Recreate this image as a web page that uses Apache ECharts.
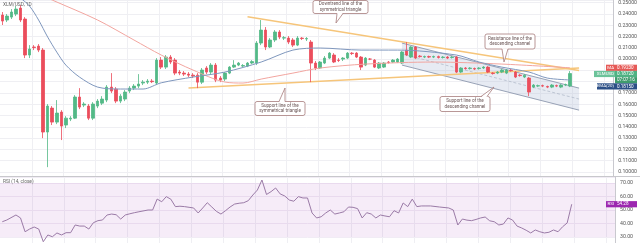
<!DOCTYPE html>
<html>
<head>
<meta charset="utf-8">
<script src="https://cdn.jsdelivr.net/npm/echarts@6.0.0/dist/echarts.min.js"></script>
<style>
html,body{margin:0;padding:0;background:#ffffff;}
#chart{width:640px;height:243px;}
</style>
</head>
<body>
<div id="chart"></div>
<script>
// ---------------- data ----------------
const slotCount = 135; // candle slots, the last ones are the empty right margin
const opens = [
0.2390,0.2346,0.2372,0.2399,0.2452,0.2355,0.2036,0.2107,0.2115,0.2080,
0.1354,0.1566,0.1442,0.1531,0.1416,0.1469,0.1477,0.1664,0.1593,0.1584,
0.1477,0.1584,0.1610,0.1637,0.1752,0.1734,0.1628,0.1646,0.1717,0.1743,
0.1761,0.1788,0.1796,0.1805,0.1788,0.1991,0.1929,0.2018,0.1991,0.1885,
0.1876,0.1867,0.1858,0.1858,0.1796,0.1921,0.1885,0.1947,0.1832,0.1823,
0.1876,0.1929,0.1947,0.1938,0.1938,0.1965,0.1965,0.2142,0.2257,0.2107,
0.2169,0.2240,0.2186,0.2186,0.2169,0.2124,0.2186,0.2178,0.2151,0.1965,
0.1921,0.1965,0.2009,0.2036,0.1991,0.2000,0.2009,0.2053,0.2053,0.2018,
0.1947,0.2000,0.1991,0.1921,0.1929,0.1974,0.1974,0.1974,0.1965,0.2080,
0.2018,0.2107,0.2027,0.2018,0.2022,0.2018,0.2022,0.2014,0.2018,0.2014,
0.2018,0.1885,0.1921,0.1916,0.1916,0.1916,0.1921,0.1929,0.1876,0.1876,
0.1885,0.1876,0.1903,0.1885,0.1858,0.1841,0.1832,0.1752,0.1761,0.1765,
0.1757,0.1752,0.1765,0.1752,0.1770,0.1761];
const closes = [
0.2337,0.2381,0.2417,0.2443,0.2346,0.2036,0.2089,0.2102,0.2080,0.1354,
0.1584,0.1442,0.1522,0.1407,0.1477,0.1477,0.1664,0.1575,0.1602,0.1477,
0.1602,0.1628,0.1646,0.1752,0.1717,0.1628,0.1672,0.1708,0.1743,0.1761,
0.1779,0.1796,0.1805,0.1800,0.1991,0.1929,0.2018,0.1974,0.1876,0.1876,
0.1867,0.1858,0.1850,0.1796,0.1903,0.1885,0.1947,0.1814,0.1814,0.1876,
0.1929,0.1947,0.1965,0.1943,0.1965,0.1978,0.2142,0.2257,0.2107,0.2169,
0.2240,0.2195,0.2190,0.2151,0.2124,0.2186,0.2182,0.2182,0.1965,0.1921,
0.1974,0.2009,0.2053,0.1974,0.1988,0.2009,0.2053,0.2049,0.2018,0.1929,
0.2009,0.2000,0.1929,0.1965,0.1965,0.1970,0.1991,0.2000,0.2062,0.2036,
0.2107,0.2009,0.2022,0.2022,0.2018,0.2022,0.2014,0.2018,0.2009,0.2018,
0.1885,0.1921,0.1916,0.1921,0.1912,0.1921,0.1929,0.1885,0.1872,0.1885,
0.1903,0.1903,0.1898,0.1841,0.1854,0.1858,0.1708,0.1770,0.1765,0.1761,
0.1752,0.1770,0.1761,0.1770,0.1774,0.1872];
const lows = [
0.2302,0.2328,0.2355,0.2381,0.2328,0.2009,0.2009,0.2080,0.2062,0.1300,
0.1043,0.1416,0.1424,0.1283,0.1389,0.1451,0.1469,0.1557,0.1575,0.1460,
0.1460,0.1566,0.1593,0.1619,0.1699,0.1610,0.1610,0.1628,0.1699,0.1726,
0.1743,0.1770,0.1779,0.1788,0.1770,0.1912,0.1912,0.1956,0.1858,0.1858,
0.1850,0.1841,0.1832,0.1743,0.1779,0.1867,0.1867,0.1796,0.1796,0.1805,
0.1867,0.1921,0.1938,0.1929,0.1929,0.1956,0.1947,0.2124,0.2080,0.2098,
0.2151,0.2177,0.2169,0.2133,0.2107,0.2115,0.2169,0.2160,0.1796,0.1903,
0.1912,0.1956,0.2000,0.1965,0.1974,0.1983,0.2000,0.2036,0.2009,0.1903,
0.1938,0.1991,0.1921,0.1912,0.1921,0.1960,0.1965,0.1965,0.1956,0.2027,
0.2009,0.2000,0.2014,0.2009,0.2009,0.2009,0.2005,0.2005,0.2000,0.2005,
0.1876,0.1876,0.1907,0.1907,0.1903,0.1907,0.1912,0.1876,0.1863,0.1867,
0.1876,0.1867,0.1889,0.1832,0.1845,0.1832,0.1672,0.1743,0.1752,0.1752,
0.1743,0.1743,0.1752,0.1743,0.1761,0.1752];
const highs = [
0.2417,0.2399,0.2443,0.2470,0.2479,0.2372,0.2124,0.2124,0.2133,0.2098,
0.1602,0.1584,0.1637,0.1548,0.1495,0.1495,0.1681,0.1743,0.1619,0.1602,
0.1619,0.1646,0.1672,0.1770,0.1876,0.1752,0.1690,0.1726,0.1761,0.1779,
0.1867,0.1814,0.1823,0.1823,0.2009,0.2018,0.2036,0.2036,0.2009,0.1903,
0.1894,0.1885,0.1876,0.1876,0.1921,0.1938,0.1965,0.1965,0.1850,0.1885,
0.1938,0.1991,0.1974,0.1956,0.1974,0.1991,0.2160,0.2346,0.2284,0.2186,
0.2257,0.2257,0.2204,0.2204,0.2186,0.2204,0.2195,0.2195,0.2169,0.1983,
0.1983,0.2027,0.2062,0.2053,0.2009,0.2018,0.2062,0.2062,0.2062,0.2027,
0.2018,0.2009,0.2000,0.1974,0.1974,0.1983,0.2000,0.2009,0.2071,0.2151,
0.2115,0.2115,0.2036,0.2031,0.2031,0.2031,0.2031,0.2027,0.2027,0.2027,
0.2027,0.1929,0.1929,0.1929,0.1925,0.1929,0.1938,0.1938,0.1885,0.1894,
0.1912,0.1912,0.1912,0.1894,0.1867,0.1867,0.1841,0.1779,0.1774,0.1774,
0.1765,0.1779,0.1774,0.1779,0.1783,0.1894];

// moving averages, read as [candle index, value]
const emaPoints = [[4,0.2541],[6,0.2470],[8,0.2346],[10,0.2195],[12,0.2062],[14,0.1947],[17,0.1841],
  [21,0.1752],[26,0.1735],[31,0.1735],[35,0.1790],[42,0.1841],[49,0.1885],[57,0.1974],[64,0.2080],
  [70,0.2098],[79,0.2080],[87,0.2080],[100,0.2036],[105,0.1974],[110,0.1929],[116,0.1885],[120,0.1832],[125,0.1815]];
const smaPoints = [[9,0.2560],[11,0.2523],[21,0.2346],[29,0.2169],[35,0.2036],[42,0.1903],[49,0.1797],
  [53,0.1788],[57,0.1823],[64,0.1876],[70,0.1921],[80,0.1956],[95,0.1974],[110,0.1956],[125,0.1923]];

// RSI(14), read as [candle index, value]
const rsiPoints = [[0,41.3],[1,42.6],[3,46.3],[4,44.1],[5,33.9],[6,35.9],[7,37.4],[8,35.9],[9,26.5],[10,31.5],
  [11,30.2],[12,33.0],[13,31.5],[14,33.2],[15,33.2],[16,38.9],[17,38.1],[18,38.1],[19,35.9],[20,40.6],
  [21,42.1],[22,42.6],[23,46.3],[24,47.0],[25,46.5],[26,43.3],[27,46.3],[28,47.2],[29,48.0],[30,48.7],
  [32,50.0],[33,50.0],[34,58.1],[35,56.1],[36,59.9],[37,58.0],[38,52.5],[39,52.8],[40,52.5],[41,52.0],
  [42,51.5],[43,47.8],[44,51.5],[45,55.4],[46,52.2],[47,49.0],[48,47.0],[49,49.5],[50,52.2],[51,54.4],
  [52,55.0],[53,55.4],[54,56.9],[55,61.1],[56,64.8],[57,72.2],[58,61.5],[59,63.6],[60,66.3],[61,61.9],
  [62,60.4],[63,57.4],[64,56.5],[65,59.9],[66,58.9],[67,58.9],[68,47.8],[69,44.1],[70,45.0],[71,47.8],
  [72,50.0],[73,47.0],[74,47.8],[75,48.7],[76,52.2],[77,52.0],[78,51.0],[79,44.1],[80,48.0],[81,47.0],
  [82,44.1],[83,46.3],[84,45.6],[85,45.0],[86,49.5],[87,47.8],[88,55.2],[89,52.5],[90,58.1],[91,52.5],
  [92,53.0],[93,53.0],[94,53.0],[96,52.2],[98,51.5],[99,50.0],[100,38.9],[101,43.3],[102,42.5],[103,42.1],
  [104,43.0],[105,44.1],[106,44.8],[107,42.0],[108,41.3],[109,38.9],[110,39.6],[111,44.1],[112,42.6],[113,38.1],
  [114,36.7],[115,35.0],[116,33.0],[117,35.2],[118,33.9],[119,33.0],[120,33.5],[121,35.2],[122,33.9],[123,37.6],
  [124,40.4],[125,54.28]];

// drawn trend lines, [candle index, price]
const triangleUpper = [[54,0.2375],[127,0.1900]];
const triangleLower = [[41,0.1743],[127,0.1921]];
const channelUpper = [[88,0.2142],[127,0.1743]];
const channelMiddle = [[88,0.2045],[127,0.1646]];
const channelLower = [[88,0.1947],[127,0.1548]];
const rsiBand = [30, 70];

const titleText = 'XLM/USD, 1D';
const rsiTitle = 'RSI (14, close)';
const symbolName = 'XLMUSD';
const countdownText = '07:07:16';
const notes = [
  'Downtrend line of the\nsymmetrical triangle',
  'Resistance line of the\ndescending channel',
  'Support line of the\nsymmetrical triangle',
  'Support line of the\ndescending channel'
];

// ---------------- chart ----------------
const slots = Array.from({length: slotCount}, (_, i) => String(i));
const candles = opens.map((o, i) => [o, closes[i], lows[i], highs[i]]);
const UP = '#53b987', DOWN = '#eb4d5c';
const FONT = 'Roboto';

const chart = echarts.init(document.getElementById('chart'), null, {renderer: 'canvas'});

const xAxisBase = {
  type: 'category', data: slots, boundaryGap: true,
  axisLine: {show: false}, axisTick: {show: false}, axisLabel: {show: false},
  splitLine: {show: true, interval: (i) => i % 7 === 0 && i > 0, lineStyle: {color: '#efeff3', width: 1}}
};

const option = {
  animation: false,
  backgroundColor: '#ffffff',
  grid: [
    {left: 0, right: 25, top: 0, height: 176},
    {left: 0, right: 25, top: 177, height: 66}
  ],
  xAxis: [
    Object.assign({gridIndex: 0}, xAxisBase),
    Object.assign({gridIndex: 1}, xAxisBase)
  ],
  yAxis: [
    {gridIndex: 0, type: 'value', position: 'right', min: 0.09646, max: 0.25235, splitNumber: 16, scale: true,
     axisLine: {show: true, lineStyle: {color: '#c9c9cf'}}, axisTick: {show: false},
     axisLabel: {show: true, inside: false, margin: 5, fontSize: 5.2, color: '#555', fontFamily: FONT,
       showMinLabel: false, showMaxLabel: false, formatter: (v) => v.toFixed(5)},
     splitLine: {show: true, lineStyle: {color: '#efeff3'}}},
    {gridIndex: 1, type: 'value', position: 'right', min: 25.56, max: 74.44, splitNumber: 5, scale: true,
     axisLine: {show: true, lineStyle: {color: '#c9c9cf'}}, axisTick: {show: false},
     axisLabel: {show: true, margin: 5, fontSize: 5.2, color: '#555', fontFamily: FONT,
       showMinLabel: false, showMaxLabel: false, formatter: (v) => v.toFixed(2)},
     splitLine: {show: true, lineStyle: {color: '#f1ecf5'}}}
  ],
  series: [
    {
      type: 'custom', xAxisIndex: 0, yAxisIndex: 0, silent: true, z: 1,
      data: [[channelUpper[0][0], channelUpper[0][1], channelLower[0][1], channelUpper[1][0], channelUpper[1][1], channelLower[1][1]]],
      encode: {x: [0, 3], y: [1, 2, 4, 5]},
      renderItem: function (params, api) {
        const a = api.coord([api.value(0), api.value(1)]);
        const b = api.coord([api.value(3), api.value(4)]);
        const c = api.coord([api.value(3), api.value(5)]);
        const d = api.coord([api.value(0), api.value(2)]);
        return {type: 'polygon', shape: {points: [a, b, c, d]}, style: {fill: 'rgba(176,190,214,0.30)'}};
      }
    },
    {type: 'line', data: channelUpper, xAxisIndex: 0, yAxisIndex: 0, symbol: 'none', silent: true, z: 2,
     lineStyle: {color: '#98a2b6', width: 1}},
    {type: 'line', data: channelMiddle, xAxisIndex: 0, yAxisIndex: 0, symbol: 'none', silent: true, z: 2,
     lineStyle: {color: '#b3bbca', width: 0.8, type: [3, 2]}},
    {type: 'line', data: channelLower, xAxisIndex: 0, yAxisIndex: 0, symbol: 'none', silent: true, z: 2,
     lineStyle: {color: '#98a2b6', width: 1}},
    {type: 'line', data: triangleUpper, xAxisIndex: 0, yAxisIndex: 0, symbol: 'none', silent: true, z: 3,
     lineStyle: {color: '#f6c57a', width: 1.5}},
    {type: 'line', data: triangleLower, xAxisIndex: 0, yAxisIndex: 0, symbol: 'none', silent: true, z: 3,
     lineStyle: {color: '#f6c57a', width: 1.5}},
    {type: 'candlestick', data: candles, xAxisIndex: 0, yAxisIndex: 0, barWidth: 3, silent: true, z: 4,
     itemStyle: {color: UP, color0: DOWN, borderColor: UP, borderColor0: DOWN, borderWidth: 0.8}},
    {type: 'line', data: smaPoints, xAxisIndex: 0, yAxisIndex: 0, symbol: 'none', smooth: 0.3, silent: true, z: 5,
     lineStyle: {color: '#f2a59f', width: 1}},
    {type: 'line', data: emaPoints, xAxisIndex: 0, yAxisIndex: 0, symbol: 'none', smooth: 0.3, silent: true, z: 5,
     lineStyle: {color: '#7f97bd', width: 1}},
    {type: 'line', data: rsiPoints, xAxisIndex: 1, yAxisIndex: 1, symbol: 'none', silent: true, z: 5,
     lineStyle: {color: '#9a7aa6', width: 1},
     markArea: {silent: true, itemStyle: {color: 'rgba(156,39,176,0.09)'},
       data: [[{yAxis: rsiBand[0]}, {yAxis: rsiBand[1]}]]}}
  ]
};
chart.setOption(option);

// ---------------- annotations & price tags ----------------
const BORDER = '#a77c7c';
function callout(x, y, w, h, baseX, tipX, tipY, text) {
  const below = tipY > y + h;
  const by = below ? y + h : y;
  const inset = below ? -0.8 : 0.8;
  return [
    {type: 'rect', z: 100, shape: {x: x, y: y, width: w, height: h, r: 2},
     style: {fill: '#ffffff', stroke: BORDER, lineWidth: 0.8}},
    {type: 'polygon', z: 101, shape: {points: [[baseX - 3, by + inset], [baseX + 3, by + inset], [tipX, tipY]]},
     style: {fill: '#ffffff', stroke: null}},
    {type: 'polyline', z: 102, shape: {points: [[baseX - 3, by], [tipX, tipY], [baseX + 3, by]]},
     style: {stroke: BORDER, lineWidth: 0.8, fill: null}},
    {type: 'text', z: 103, style: {x: x + w / 2, y: y + h / 2, text: text, fill: '#6a5555',
      font: '4.6px ' + FONT, align: 'center', verticalAlign: 'middle', textAlign: 'center',
      textVerticalAlign: 'middle', lineHeight: 5.6}}
  ];
}

const yPrice = (v) => chart.convertToPixel({yAxisIndex: 0}, v);
const yRsi = (v) => chart.convertToPixel({yAxisIndex: 1}, v);
const AX = 615, H = 6.2;

function tag(cy, nameW, name, value, color, nameColor) {
  const items = [];
  if (nameW > 0) {
    items.push({type: 'rect', z: 110, shape: {x: AX - nameW, y: cy - H / 2, width: nameW, height: H},
      style: {fill: nameColor || color}});
    items.push({type: 'text', z: 111, style: {x: AX - 1, y: cy, text: name, fill: '#fff',
      font: '4.4px ' + FONT, align: 'right', verticalAlign: 'middle', textAlign: 'right', textVerticalAlign: 'middle'}});
  }
  items.push({type: 'rect', z: 110, shape: {x: AX, y: cy - H / 2, width: 22, height: H}, style: {fill: color}});
  items.push({type: 'text', z: 111, style: {x: AX + 2, y: cy, text: value, fill: '#fff',
    font: '4.6px ' + FONT, align: 'left', verticalAlign: 'middle', textAlign: 'left', textVerticalAlign: 'middle'}});
  return items;
}

const lastSma = smaPoints[smaPoints.length - 1][1];
const lastEma = emaPoints[emaPoints.length - 1][1];
const lastClose = closes[closes.length - 1];
const lastRsi = rsiPoints[rsiPoints.length - 1][1];

// simple overlap avoidance for the stacked price tags
let yRed = yPrice(lastSma);
let yGreen = Math.max(yPrice(lastClose), yRed + H);
let yCount = yGreen + H;
let yNavy = Math.max(yPrice(lastEma), yCount + H);

const graphics = [].concat(
  [{type: 'line', z: 90, shape: {x1: 0, y1: 176.5, x2: 640, y2: 176.5}, style: {stroke: '#c8c8cc', lineWidth: 1}}],
  [{type: 'text', z: 90, style: {x: 3, y: 4.5, text: titleText, fill: '#666', font: '4.8px ' + FONT,
     verticalAlign: 'middle', textVerticalAlign: 'middle'}}],
  [{type: 'text', z: 90, style: {x: 3, y: 181.5, text: rsiTitle, fill: '#666', font: '4.8px ' + FONT,
     verticalAlign: 'middle', textVerticalAlign: 'middle'}}],
  callout(313, 0.5, 55, 13, 340, 336, 23, notes[0]),
  callout(485, 34, 50, 15, 505, 504, 62, notes[1]),
  callout(255, 101.5, 50, 14, 282, 285, 88, notes[2]),
  callout(440, 96.5, 50, 15, 484, 494, 87, notes[3]),
  tag(yRed, 9, 'MA', lastSma.toFixed(5), '#e65a57'),
  tag(yGreen, 21, symbolName, lastClose.toFixed(5), '#4fb283', '#6cc39a'),
  tag(yCount, 0, '', countdownText, '#3f9b6d'),
  tag(yNavy, 18, 'EMA(20)', lastEma.toFixed(5), '#2c4f86'),
  tag(yRsi(lastRsi), 9, 'RSI', lastRsi.toFixed(2), '#9c27b0')
);
chart.setOption({graphic: graphics});
</script>
</body>
</html>
